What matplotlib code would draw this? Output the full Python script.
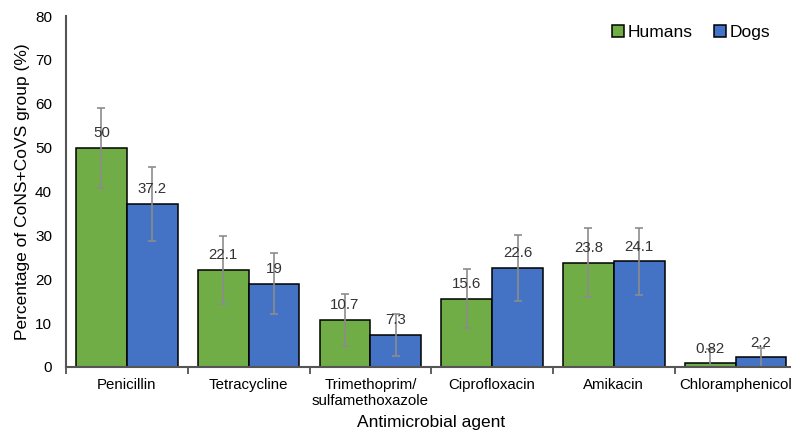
import numpy as np
import matplotlib
matplotlib.use("Agg")
import matplotlib.pyplot as plt

plt.rcParams["font.family"] = ["Liberation Sans", "DejaVu Sans"]

agents = ["Penicillin", "Tetracycline", "Trimethoprim/\nsulfamethoxazole",
          "Ciprofloxacin", "Amikacin", "Chloramphenicol"]
humans = [50, 22.1, 10.7, 15.6, 23.8, 0.82]
dogs = [37.2, 19, 7.3, 22.6, 24.1, 2.2]
humans_err = [9.1, 7.7, 5.9, 6.8, 7.9, 3.3]
dogs_err = [8.4, 7.0, 4.8, 7.5, 7.6, 2.2]
humans_lbl = ["50", "22.1", "10.7", "15.6", "23.8", "0.82"]
dogs_lbl = ["37.2", "19", "7.3", "22.6", "24.1", "2.2"]

fig = plt.figure(figsize=(7.91, 4.32), dpi=100)
ax = fig.add_axes([66 / 791, (432 - 367) / 432, 730.5 / 791, 351 / 432])

x = np.arange(len(agents))
w = 0.417
ekw = dict(ecolor="#8c8c8c", elinewidth=1.2, capsize=3, capthick=1.2)
b1 = ax.bar(x - w / 2, humans, w, color="#70AD47", edgecolor="black",
            linewidth=1.1, label="Humans", yerr=humans_err, error_kw=ekw)
b2 = ax.bar(x + w / 2, dogs, w, color="#4472C4", edgecolor="black",
            linewidth=1.1, label="Dogs", yerr=dogs_err, error_kw=ekw)

for bars, lbls in ((b1, humans_lbl), (b2, dogs_lbl)):
    for r, t in zip(bars, lbls):
        ax.annotate(t, (r.get_x() + r.get_width() / 2, r.get_height()),
                    xytext=(0, 5.5), textcoords="offset points",
                    ha="center", va="bottom", fontsize=10.8, color="#333333")

ax.set_xlim(-0.5, len(agents) - 0.5)
ax.set_ylim(0, 80)
ax.set_yticks(range(0, 81, 10))
ax.set_xticks(x)
ax.set_xticklabels(agents, fontsize=10.8)
ax.set_xticks(np.arange(len(agents)) + 0.5 - 1, minor=True)
ax.tick_params(axis="x", which="major", length=0, pad=8)
ax.tick_params(axis="x", which="minor", length=5, width=1.2, color="#444444")
ax.tick_params(axis="y", length=0, labelsize=11, pad=10)

for s in ("top", "right"):
    ax.spines[s].set_visible(False)
ax.spines["left"].set_color("#555555")
ax.spines["left"].set_linewidth(1.5)
ax.spines["bottom"].set_color("#555555")
ax.spines["bottom"].set_linewidth(1.5)

ax.set_xlabel("Antimicrobial agent", fontsize=12.5, labelpad=5)
ax.set_ylabel("Percentage of CoNS+CoVS group (%)", fontsize=12.5)

ax.legend(loc="upper right", bbox_to_anchor=(0.985, 1.02), ncol=2, frameon=False,
          fontsize=12.5, handlelength=0.7, handleheight=0.7, handletextpad=0.2,
          columnspacing=1.2)

fig.savefig("out.png", dpi=100)
